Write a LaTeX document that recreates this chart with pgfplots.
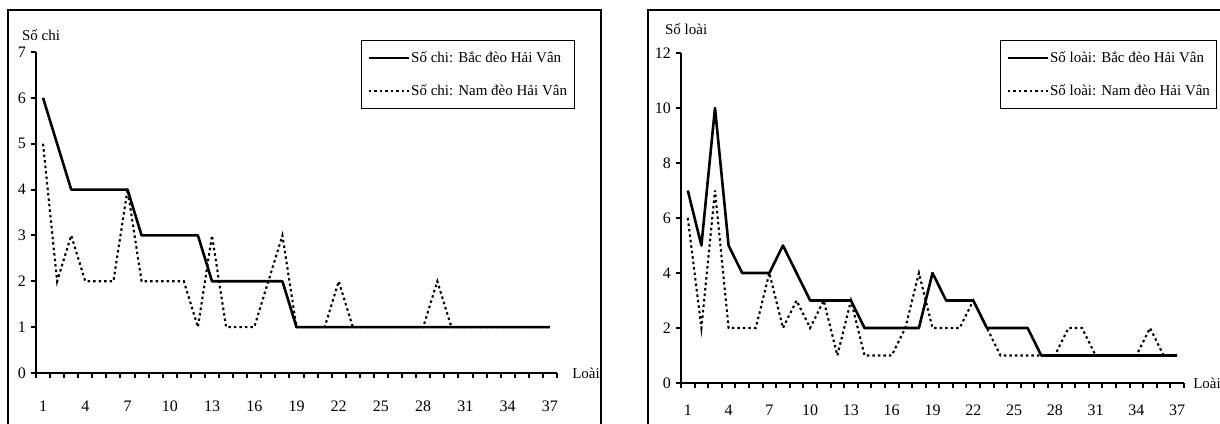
\documentclass[border=0pt]{standalone}
\usepackage{pgfplots}
\pgfplotsset{compat=1.18}
\usepackage{fontspec}
\setmainfont{Liberation Serif}

\pgfplotsset{
  excel/.style={
    scale only axis,
    axis x line=bottom, axis y line=left,
    axis line style={-, line width=2.4pt},
    xmin=0.5, xmax=37.5,
    xtick={1,4,...,37},
    minor xtick={0.5,1.5,...,37.5},
    major x tick style={draw=none},
    minor x tick style={line width=2pt, black},
    minor tick length=5pt,
    y tick style={line width=2pt, black},
    major tick length=5pt,
    tick align=outside,
    tick label style={font=\fontsize{16pt}{18pt}\selectfont},
    /pgf/number format/assume math mode=true,
    clip=false,
    legend cell align=left,
    legend image code/.code={\draw[#1] (0pt,0pt) -- (40pt,0pt);},
    legend style={draw=black, line width=1pt, anchor=north west,
      inner xsep=6pt, inner ysep=10pt, row sep=18pt,
      nodes={inner sep=1pt}},
  },
  bac/.style={black, line width=2.6pt, line join=round},
  nam/.style={black, line width=2.1pt, dash pattern=on 2.5pt off 3pt},
}

\begin{document}
\fontsize{15pt}{17.5pt}\selectfont
\begin{tikzpicture}
\useasboundingbox (0,0) rectangle (1220pt,423pt);
\clip (0,0) rectangle (1220pt,423pt);
\draw[line width=1.2pt] (8pt,-5pt) rectangle (601pt,413pt);
\draw[line width=1.2pt] (648pt,-5pt) rectangle (1230pt,413pt);

% Số chi
\begin{axis}[excel, at={(36pt,50pt)}, anchor=south west,
  width=521pt, height=321pt,
  ymin=0, ymax=7, ytick={0,...,7},
  xticklabel style={yshift=-18pt},
  legend style={at={(axis description cs:0.624,1.037)}}]
\addplot[bac] coordinates {
 (1,6) (2,5) (3,4) (4,4) (5,4) (6,4) (7,4) (8,3) (9,3) (10,3)
 (11,3) (12,3) (13,2) (14,2) (15,2) (16,2) (17,2) (18,2) (19,1) (20,1)
 (21,1) (22,1) (23,1) (24,1) (25,1) (26,1) (27,1) (28,1) (29,1) (30,1)
 (31,1) (32,1) (33,1) (34,1) (35,1) (36,1) (37,1)};
\addlegendentry{Số chi: Bắc đèo Hải Vân}
\addplot[nam] coordinates {
 (1,5) (2,2) (3,3) (4,2) (5,2) (6,2) (7,4) (8,2) (9,2) (10,2)
 (11,2) (12,1) (13,3) (14,1) (15,1) (16,1) (17,2) (18,3) (19,1) (20,1)
 (21,1) (22,2) (23,1) (24,1) (25,1) (26,1) (27,1) (28,1) (29,2) (30,1)
 (31,1) (32,1) (33,1) (34,1) (35,1) (36,1) (37,1)};
\addlegendentry{Số chi: Nam đèo Hải Vân}
\node[anchor=south west, inner sep=0pt] at (axis description cs:-0.027,1.035) {Số chi};
\node[anchor=west, inner sep=0pt] at (axis description cs:1.029,0) {Loài};
\end{axis}

% Số loài
\begin{axis}[excel, at={(681pt,40pt)}, anchor=south west,
  width=503pt, height=330pt,
  ymin=0, ymax=12, ytick={0,2,...,12},
  xticklabel style={yshift=-12pt},
  legend style={at={(axis description cs:0.634,1.039)}}]
\addplot[bac] coordinates {
 (1,7) (2,5) (3,10) (4,5) (5,4) (6,4) (7,4) (8,5) (9,4) (10,3)
 (11,3) (12,3) (13,3) (14,2) (15,2) (16,2) (17,2) (18,2) (19,4) (20,3)
 (21,3) (22,3) (23,2) (24,2) (25,2) (26,2) (27,1) (28,1) (29,1) (30,1)
 (31,1) (32,1) (33,1) (34,1) (35,1) (36,1) (37,1)};
\addlegendentry{Số loài: Bắc đèo Hải Vân}
\addplot[nam] coordinates {
 (1,6) (2,2) (3,7) (4,2) (5,2) (6,2) (7,4) (8,2) (9,3) (10,2)
 (11,3) (12,1) (13,3) (14,1) (15,1) (16,1) (17,2) (18,4) (19,2) (20,2)
 (21,2) (22,3) (23,2) (24,1) (25,1) (26,1) (27,1) (28,1) (29,2) (30,2)
 (31,1) (32,1) (33,1) (34,1) (35,2) (36,1) (37,1)};
\addlegendentry{Số loài: Nam đèo Hải Vân}
\node[anchor=south west, inner sep=0pt] at (axis description cs:-0.032,1.055) {Số loài};
\node[anchor=west, inner sep=0pt] at (axis description cs:1.018,0) {Loài};
\end{axis}
\end{tikzpicture}
\end{document}
